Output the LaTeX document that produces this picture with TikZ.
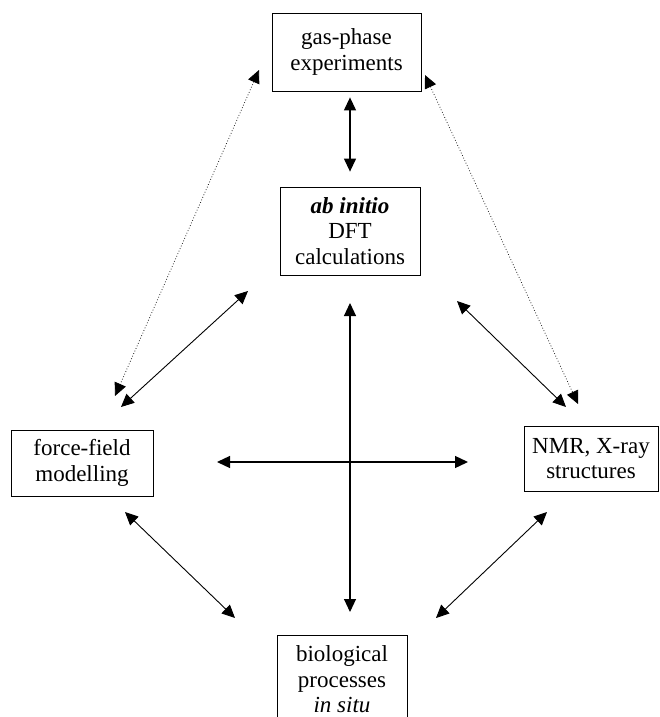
\documentclass[tikz,border=0pt]{standalone}
\usepackage{fontspec}
\setmainfont{Liberation Serif}
\usetikzlibrary{arrows.meta,calc}
\begin{document}
\begin{tikzpicture}[x=1pt,y=-1pt,
  box/.style={draw, line width=0.8pt, align=center, inner sep=0pt,
    font=\fontsize{23}{25.5}\selectfont},
  tip/.tip={Triangle[length=13pt,width=12pt,color=black]},
  link/.style={line width=0.9pt, tip-tip},
  dotlink/.style={line width=0.8pt, dotted, tip-tip, black!85}]
\useasboundingbox (0,0) rectangle (660,717);
\clip (0,0) rectangle (660,717);
% boxes
\node[box, minimum width=149pt, minimum height=78pt] (gas) at (346.5,52) {gas-phase\\experiments};
\node[box, minimum width=140pt, minimum height=88pt] (dft) at (350,231) {\textbf{\textit{ab initio}}\\DFT\\calculations};
\node[box, minimum width=142pt, minimum height=66pt] (force) at (82,463) {force-field\\modelling};
\node[box, minimum width=134pt, minimum height=65pt] (nmr) at (591,458.5) {NMR, X-ray\\structures};
\node[box, minimum width=130pt, minimum height=88pt] (bio) at (342,679.5) {biological\\processes\\\textit{in situ}};
% connector ends
\coordinate (gasS) at ($(gas.south)+(3.5,6)$);
\coordinate (dftN) at ($(dft.north)+(0,-15)$);
\coordinate (gasW) at (259,70);
\coordinate (gasE) at (425,75);
\coordinate (forceNd) at (115,396);
\coordinate (nmrNd) at (578,404);
\coordinate (dftSW) at (248,291);
\coordinate (dftSE) at (457,301);
\coordinate (dftS) at (350,303);
\coordinate (forceN) at (121,407);
\coordinate (nmrN) at (566,407);
\coordinate (forceE) at (217,462);
\coordinate (nmrW) at (468,462);
\coordinate (bioN) at (350,612);
\coordinate (forceS) at (125,512);
\coordinate (nmrS) at (547,512);
\coordinate (bioNW) at (235,618);
\coordinate (bioNE) at (436,618);
% connectors
\draw[link, line width=1.2pt] (gasS) -- (dftN);
\draw[dotlink] (gasW) -- (forceNd);
\draw[dotlink] (gasE) -- (nmrNd);
\draw[link] (dftSW) -- (forceN);
\draw[link] (dftSE) -- (nmrN);
\draw[link, line width=1.1pt] (dftS) -- (bioN);
\draw[link, line width=1.3pt] (forceE) -- (nmrW);
\draw[link] (forceS) -- (bioNW);
\draw[link] (nmrS) -- (bioNE);
\end{tikzpicture}
\end{document}
